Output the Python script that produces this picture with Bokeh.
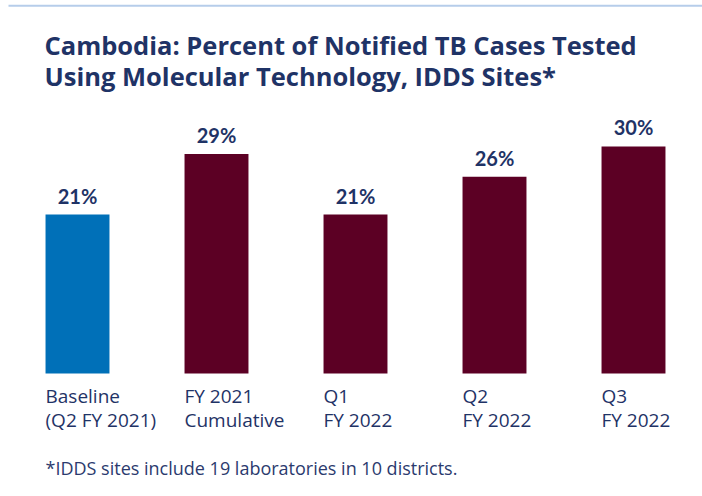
from bokeh.plotting import figure
from bokeh.models import FactorRange, Range1d, Label, ColumnDataSource, BoxAnnotation
from bokeh.transform import factor_cmap
from bokeh.embed import file_html
from bokeh.resources import INLINE
from bokeh.core.properties import value

# ---- data ----
categories = ["Baseline (Q2 FY 2021)", "FY 2021 Cumulative", "Q1 FY 2022", "Q2 FY 2022", "Q3 FY 2022"]
label_line1 = ["Baseline", "FY 2021", "Q1", "Q2", "Q3"]
label_line2 = ["(Q2 FY 2021)", "Cumulative", "FY 2022", "FY 2022", "FY 2022"]
percent_tested = [21, 29, 21, 26, 30]
period_kind = ["Baseline", "Project", "Project", "Project", "Project"]

title_line1 = "Cambodia: Percent of Notified TB Cases Tested"
title_line2 = "Using Molecular Technology, IDDS Sites*"
footnote = "*IDDS sites include 19 laboratories in 10 districts."

# ---- style ----
NAVY = "#1f3366"
BLUE = "#0070b8"
MAROON = "#5c0024"
LIGHTBLUE = "#b6cdea"

W, H = 702, 496
LEFT = 8

source = ColumnDataSource(dict(
    cat=categories,
    pct=percent_tested,
    label=[f"{v}%" for v in percent_tested],
    l1=label_line1,
    l2=label_line2,
    kind=period_kind,
))

p = figure(width=W, height=H,
           x_range=FactorRange(*categories, range_padding=-0.00144),
           y_range=Range1d(-16.25, 49.27),
           output_backend="svg", toolbar_location=None, title=None,
           x_axis_location=None, y_axis_location=None,
           min_border=0, outline_line_color=None)
p.min_border_left = LEFT
p.grid.visible = False

p.vbar(x="cat", top="pct", bottom=0, width=0.46, source=source,
       fill_color=factor_cmap("kind", palette=[BLUE, MAROON], factors=["Baseline", "Project"]),
       line_color=None)

p.text(x="cat", y="pct", text="label", source=source, text_align="center",
       text_baseline="middle", y_offset=-19, text_font=value("Lato"),
       text_font_style="bold", text_font_size="20px", text_color=NAVY)

p.text(x="cat", y=0, text="l1", source=source, text_align="left",
       text_baseline="middle", x_offset=-32, y_offset=22.7, text_font=value("Open Sans"),
       text_font_size="19px", text_color=NAVY)
p.text(x="cat", y=0, text="l2", source=source, text_align="left",
       text_baseline="middle", x_offset=-32, y_offset=46.2, text_font=value("Open Sans"),
       text_font_size="19px", text_color=NAVY)

for txt, mid in [(title_line1, 44.5), (title_line2, 75.5)]:
    p.add_layout(Label(x=44 - LEFT, y=H - mid, x_units="screen", y_units="screen", text=txt,
                       text_font="Open Sans", text_font_size="25.5px", text_font_style="bold",
                       text_color=NAVY, text_baseline="middle"))

p.add_layout(Label(x=45 - LEFT, y=H - 467.5, x_units="screen", y_units="screen", text=footnote,
                   text_font="Open Sans", text_font_size="18px", text_color="#2b3a6e",
                   text_baseline="middle"))

p.add_layout(BoxAnnotation(left=-LEFT, right=W - LEFT, top=H - 4.3, bottom=H - 6.3,
                           left_units="screen", right_units="screen",
                           top_units="screen", bottom_units="screen",
                           fill_color=LIGHTBLUE, fill_alpha=1, line_color=None))

open("out.html", "w").write(file_html(p, INLINE))
